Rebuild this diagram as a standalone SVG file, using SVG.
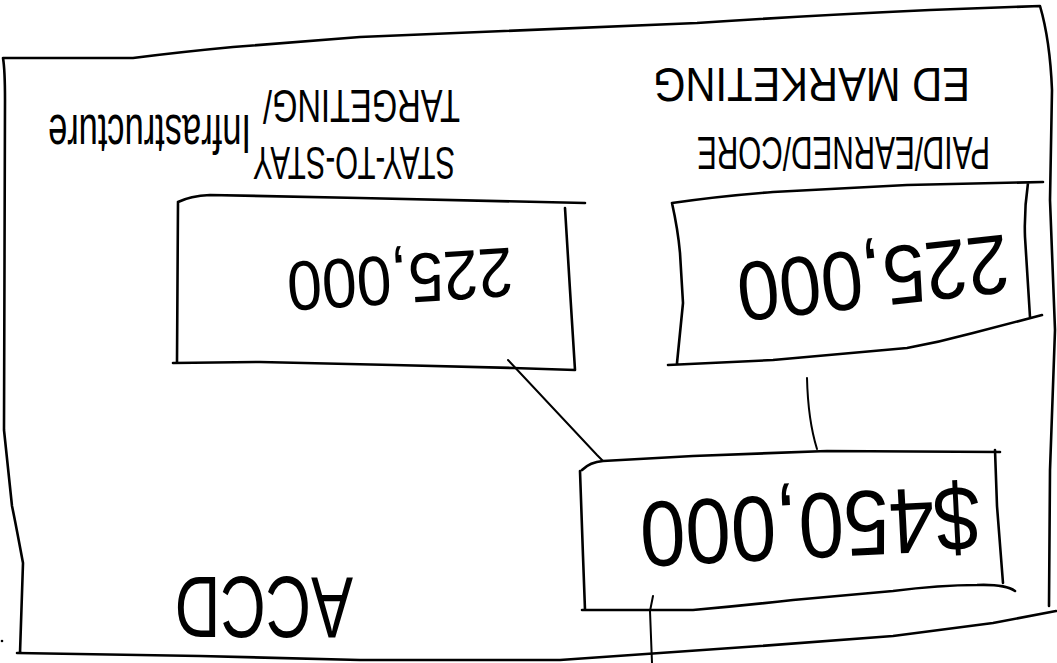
<svg xmlns="http://www.w3.org/2000/svg" width="1057" height="663" viewBox="0 0 1057 663">
<style>
  .ln { fill: none; stroke: #000; stroke-width: 2.6; stroke-linecap: round; stroke-linejoin: round; }
  .cn { fill: none; stroke: #000; stroke-width: 2; stroke-linecap: round; }
  .hand { font-family: "Liberation Sans", Arial, sans-serif; fill: #000; }
</style>
<rect width="1057" height="663" fill="#fff"/>

<g id="frame">
  <path class="ln" d="M3,58 L133,58 Q180,52 233,47 L360,37 L697,23 Q800,16 930,10 L1040,6 Q1050,40 1052,90 L1050,200 L1055,330 L1050,470 L1049,606 M1056,611 Q1020,618 993,623 L893,636 L760,646 L660,653 L560,660 L360,660 L200,656 L17,653 M20,653 L23,563 Q15,520 12,506 L4,430 L5,100 Q5,70 3,58"/>
  <circle cx="2" cy="641" r="1.3" fill="#000"/>
</g>

<g id="connectors">
  <path class="cn" d="M508,360 L597,455 L603,461"/>
  <path class="cn" d="M807,378 Q808,420 817,449"/>
  <path class="cn" d="M653,596 L650,611 L652,663"/>
</g>

<g id="label-stay" transform="translate(257,140) rotate(180)">
  <text class="hand" font-size="27.7" transform="scale(1,1.66)" x="-198" y="-4.22" textLength="202" lengthAdjust="spacingAndGlyphs">STAY-TO-STAY</text>
  <text class="hand" font-size="32.2" transform="scale(1,1.43)" x="-203" y="34.97" textLength="197" lengthAdjust="spacingAndGlyphs">TARGETING/</text>
  <text class="hand" font-size="34.5" transform="scale(1,1.6)" x="6" y="15.6" textLength="203" lengthAdjust="spacingAndGlyphs">Infrastructure</text>
</g>

<g id="label-paid" transform="translate(820,120) rotate(180)">
  <text class="hand" font-size="29.5" transform="scale(1,1.56)" x="-170" y="-10.9" textLength="293" lengthAdjust="spacingAndGlyphs">PAID/EARNED/CORE</text>
  <text class="hand" font-size="41.6" transform="scale(1,1.14)" x="-150" y="45.6" textLength="317" lengthAdjust="spacingAndGlyphs">ED MARKETING</text>
</g>

<g id="node-225-left">
  <path class="ln" d="M178,202 Q190,196 210,195 L360,198 L585,203 M565,208 L570,290 L575,370 M173,363 L260,362 L393,365 L513,368 L575,370 M178,202 L177,362"/>
  <g transform="translate(400,279) rotate(176.2)">
    <text class="hand" font-size="62.5" transform="scale(1,1.12)" x="0" y="21.4" text-anchor="middle" textLength="226" lengthAdjust="spacingAndGlyphs">225,000</text>
  </g>
</g>

<g id="node-225-right">
  <path class="ln" d="M672,203 Q720,196 773,192 L907,185 L1043,182 M1028,183 Q1024,210 1025,237 L1030,317 M668,365 L773,360 L907,348 Q940,342 973,333 L1042,315 M672,203 Q678,230 680,253 L683,303 L677,363"/>
  <g transform="translate(873,278) rotate(173.7)">
    <text class="hand" font-size="75.5" transform="scale(1,1.11)" x="0" y="26.1" text-anchor="middle" textLength="273" lengthAdjust="spacingAndGlyphs">225,000</text>
  </g>
</g>

<g id="node-450">
  <path class="ln" d="M582,470 Q590,462 603,461 L693,456 L827,451 L1000,452 M995,450 L997,506 L1003,583 M582,610 L693,610 Q740,606 793,600 L893,591 Q940,585 977,585 Q1005,584 1015,591 M580,471 L583,556 L585,610"/>
  <g transform="translate(810,527) rotate(177.1)">
    <text class="hand" font-size="81.5" transform="scale(1,1.14)" x="0" y="28.9" text-anchor="middle" textLength="340" lengthAdjust="spacingAndGlyphs">$450,000</text>
  </g>
</g>

<g id="label-accd" transform="translate(264,608) rotate(180)">
  <text class="hand" font-size="62.8" transform="scale(1,1.38)" x="0" y="22.5" text-anchor="middle" textLength="178" lengthAdjust="spacingAndGlyphs">ACCD</text>
</g>
</svg>
